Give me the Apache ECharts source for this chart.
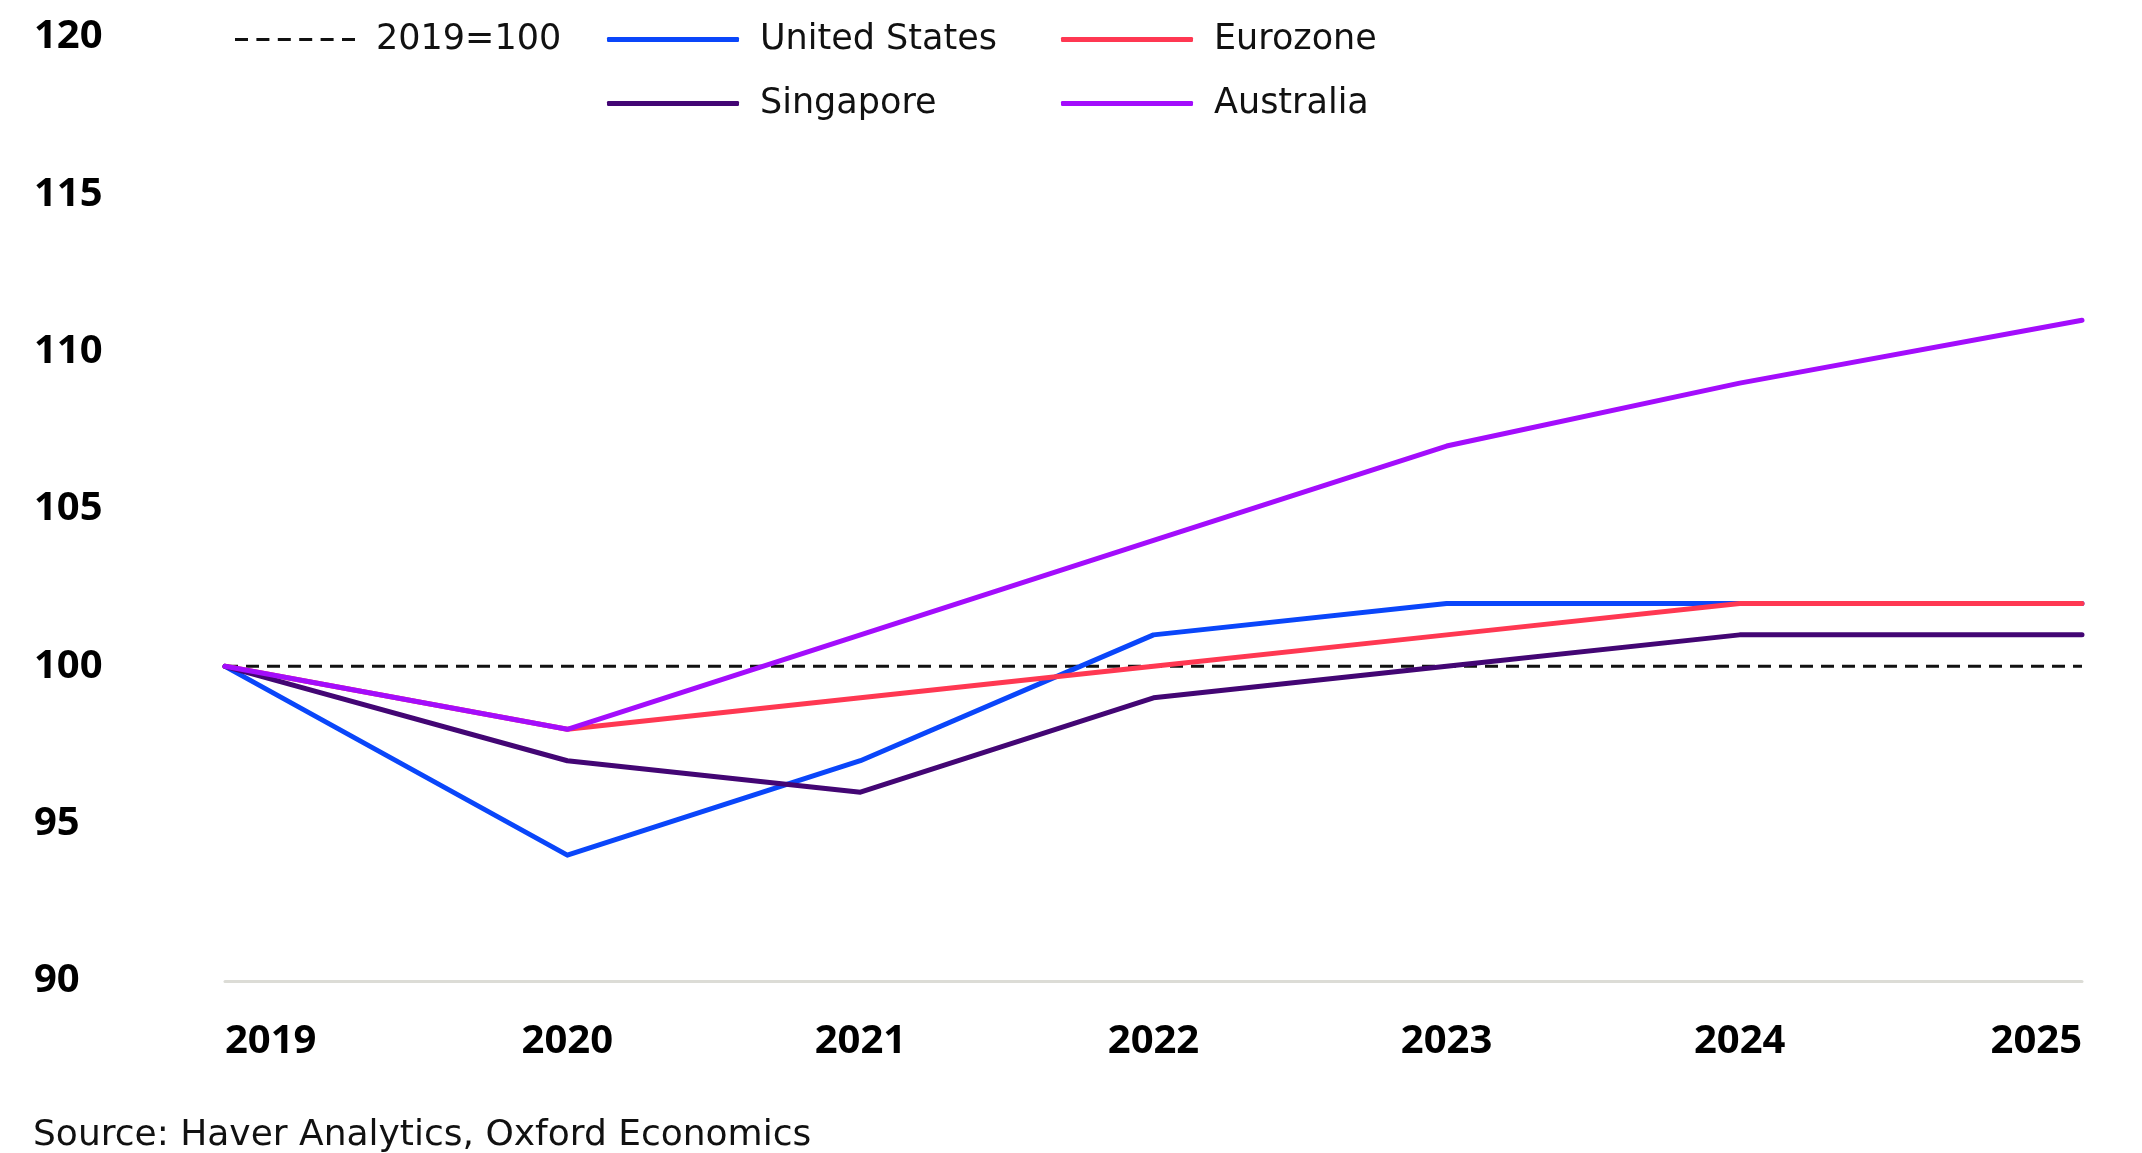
<!DOCTYPE html>
<html>
<head>
<meta charset="utf-8">
<script src="https://cdn.jsdelivr.net/npm/echarts@6/dist/echarts.min.js"></script>
<style>
html,body{margin:0;padding:0;background:#fff;}
#chart{width:2142px;height:1153px;}
</style>
</head>
<body>
<div id="chart"></div>
<script>
// Category labels and the x position of each point
const years = ['2019','2020','2021','2022','2023','2024','2025'];
const xPositions = [2018.832, 2020, 2021, 2022, 2023, 2024, 2025.168];
const baseline = [100,100,100,100,100,100,100];
const unitedStates = [100,94,97,101,102,102,102];
const eurozone = [100,98,99,100,101,102,102];
const singapore = [100,97,96,99,100,101,101];
const australia = [100,98,101,104,107,109,111];
const yTicks = [90,95,100,105,110,115,120];

const FONT_B = '"Open Sans", sans-serif';
const FONT_R = '"DejaVu Sans", sans-serif';
const chart = echarts.init(document.getElementById('chart'));

function pairs(values) { return values.map((v, i) => [xPositions[i], v]); }

function lineSeries(name, values, color, extra) {
  return Object.assign({
    name: name, type: 'line', data: pairs(values), symbol: 'none', smooth: false,
    lineStyle: {color: color, width: 5, cap: 'round', join: 'round'},
    itemStyle: {color: color},
    emphasis: {disabled: true}, animation: false
  }, extra || {});
}

const dashIcon = 'path://M0,0h13v3h-13z M21.4,0h13v3h-13z M42.8,0h13v3h-13z M64.2,0h13v3h-13z M85.6,0h13v3h-13z M107,0h13v3h-13z';

function legendAt(name, left, top, w, h, icon) {
  return {
    data: [{name: name, icon: icon}], left: left, top: top, orient: 'horizontal',
    itemWidth: w, itemHeight: h, padding: 0,
    itemStyle: {borderWidth: 0},
    textStyle: {fontFamily: FONT_R, fontSize: 35, color: '#111', padding: [0,0,0,16]},
    selectedMode: false
  };
}

chart.setOption({
  backgroundColor: '#fff',
  animation: false,
  grid: {left: 225, right: 60, top: 37, bottom: 172, containLabel: false},
  legend: [
    legendAt('2019=100', 235, 22, 120, 3, dashIcon),
    legendAt('United States', 607, 22, 132, 5, 'roundRect'),
    legendAt('Eurozone', 1061, 22, 132, 5, 'roundRect'),
    legendAt('Singapore', 607, 86, 132, 5, 'roundRect'),
    legendAt('Australia', 1061, 86, 132, 5, 'roundRect')
  ],
  title: {
    text: 'Source: Haver Analytics, Oxford Economics',
    left: 33, top: 1118, padding: 0,
    textStyle: {fontFamily: FONT_R, fontSize: 36, fontWeight: 'normal', color: '#111'}
  },
  xAxis: {
    type: 'value', min: xPositions[0], max: xPositions[xPositions.length - 1],
    axisLine: {show: true, onZero: false, lineStyle: {color: '#dcdcd6', width: 3}},
    axisTick: {show: false},
    splitLine: {show: false},
    axisLabel: {
      customValues: xPositions,
      formatter: function (v) {
        let best = 0;
        xPositions.forEach((p, i) => { if (Math.abs(p - v) < Math.abs(xPositions[best] - v)) best = i; });
        return years[best];
      },
      fontFamily: FONT_B, fontSize: 40, fontWeight: 'bold', color: '#000',
      margin: 41, alignMinLabel: 'left', alignMaxLabel: 'right'
    }
  },
  yAxis: {
    type: 'value', min: yTicks[0], max: yTicks[yTicks.length-1], interval: 5,
    axisLine: {show: false}, axisTick: {show: false}, splitLine: {show: false},
    axisLabel: {
      fontFamily: FONT_B, fontSize: 40, fontWeight: 'bold', color: '#000',
      align: 'left', margin: 191, padding: [6, 0, 0, 0]
    }
  },
  series: [
    lineSeries('2019=100', baseline, '#111', {lineStyle: {color: '#111', width: 3, type: [13, 8]}}),
    lineSeries('United States', unitedStates, '#0a46fa'),
    lineSeries('Eurozone', eurozone, '#ff3852'),
    lineSeries('Singapore', singapore, '#430674'),
    lineSeries('Australia', australia, '#a30dfc')
  ]
});
</script>
</body>
</html>
